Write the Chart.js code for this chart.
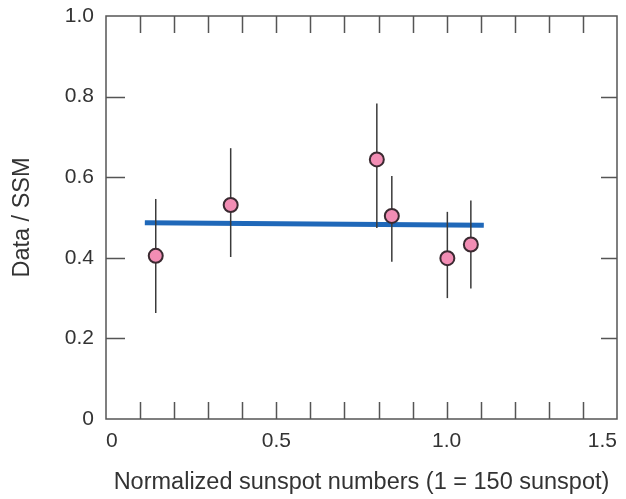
<!DOCTYPE html>
<html>
<head>
<meta charset="utf-8">
<script src="https://cdn.jsdelivr.net/npm/chart.js@4"></script>
<style>
  body { margin: 0; background: #fff; }
  canvas { display: block; }
</style>
</head>
<body>
<canvas id="sunChart" width="626" height="499"></canvas>
<script>
// values
const sunspot = [0.146, 0.366, 0.795, 0.839, 1.002, 1.071];
const ratio   = [0.405, 0.531, 0.644, 0.504, 0.399, 0.433];
const errLow  = [0.263, 0.402, 0.474, 0.390, 0.300, 0.324];
const errHigh = [0.546, 0.672, 0.783, 0.603, 0.514, 0.542];
const fitX = [0.114, 1.109];
const fitY = [0.487, 0.481];
const xTickLabels = ['0', '0.5', '1.0', '1.5'];
const yTickLabels = ['0', '0.2', '0.4', '0.6', '0.8', '1.0'];

const FONT = "'Liberation Sans', Arial, Helvetica, sans-serif";
const INK = '#333333';

// error bars drawn right after the fit line, so markers sit on top
const errorBars = {
  id: 'errorBars',
  afterDatasetDraw(chart, args) {
    if (args.index !== 1) return;
    const { ctx, scales: { x, y } } = chart;
    ctx.save();
    ctx.strokeStyle = '#3a3a3a';
    ctx.lineWidth = 1.5;
    sunspot.forEach((v, i) => {
      const px = x.getPixelForValue(v);
      ctx.beginPath();
      ctx.moveTo(px, y.getPixelForValue(errLow[i]));
      ctx.lineTo(px, y.getPixelForValue(errHigh[i]));
      ctx.stroke();
    });
    ctx.restore();
  }
};

// box frame with inward tick marks on all four sides
const frameTicks = {
  id: 'frameTicks',
  beforeDatasetsDraw(chart) {
    const { ctx, chartArea: a, scales: { x, y } } = chart;
    ctx.save();
    ctx.strokeStyle = '#555555';
    ctx.lineWidth = 1.5;
    ctx.strokeRect(a.left, a.top, a.right - a.left, a.bottom - a.top);
    ctx.beginPath();
    x.ticks.forEach(t => {
      if (t.value <= 0.001 || t.value >= 1.499) return;
      const px = Math.round(x.getPixelForValue(t.value)) + 0.5;
      ctx.moveTo(px, a.bottom); ctx.lineTo(px, a.bottom - 17);
      ctx.moveTo(px, a.top); ctx.lineTo(px, a.top + 17);
    });
    y.ticks.forEach(t => {
      if (t.value <= 0.001 || t.value >= 0.999) return;
      const py = Math.round(y.getPixelForValue(t.value)) + 0.5;
      ctx.moveTo(a.left, py); ctx.lineTo(a.left + 19, py);
      ctx.moveTo(a.right, py); ctx.lineTo(a.right - 16, py);
    });
    ctx.stroke();
    ctx.restore();
  }
};

function nearHalf(v) {
  return Math.abs(v * 2 - Math.round(v * 2)) < 1e-6;
}

new Chart(document.getElementById('sunChart'), {
  type: 'scatter',
  data: {
    datasets: [
      {
        label: 'Data / SSM',
        data: sunspot.map((v, i) => ({ x: v, y: ratio[i] })),
        backgroundColor: '#f28db4',
        borderColor: '#3b2a31',
        borderWidth: 2,
        pointRadius: 7,
        order: 1
      },
      {
        label: 'fit',
        type: 'line',
        data: fitX.map((v, i) => ({ x: v, y: fitY[i] })),
        borderColor: '#1f68b9',
        borderWidth: 5,
        pointRadius: 0,
        fill: false,
        order: 2
      }
    ]
  },
  options: {
    responsive: false,
    animation: false,
    layout: { padding: { left: 0, right: 2, top: 16, bottom: 0 } },
    plugins: {
      legend: { display: false },
      tooltip: { enabled: false }
    },
    scales: {
      x: {
        type: 'linear',
        min: 0,
        max: 1.5,
        grid: { display: false, drawTicks: false },
        border: { display: false },
        afterFit: s => { s.height = 80; s.paddingLeft = 0; s.paddingRight = 0; },
        ticks: {
          stepSize: 0.1,
          autoSkip: false,
          maxRotation: 0,
          align: 'inner',
          padding: 10,
          color: INK,
          font: { family: FONT, size: 21 },
          callback: v => nearHalf(v) ? xTickLabels[Math.round(v * 2)] : ''
        },
        title: {
          display: true,
          text: 'Normalized sunspot numbers (1 = 150 sunspot)',
          color: INK,
          font: { family: FONT, size: 23.5 },
          padding: { top: 0, bottom: 2 }
        }
      },
      y: {
        type: 'linear',
        min: 0,
        max: 1,
        grid: { display: false, drawTicks: false },
        border: { display: false },
        afterFit: s => { s.width = 106; s.paddingTop = 0; s.paddingBottom = 0; },
        ticks: {
          stepSize: 0.2,
          padding: 12,
          color: INK,
          font: { family: FONT, size: 21 },
          callback: v => yTickLabels[Math.round(v * 5)]
        },
        title: {
          display: true,
          text: 'Data / SSM',
          color: INK,
          font: { family: FONT, size: 23.5 },
          padding: { top: 8, bottom: 0 }
        }
      }
    }
  },
  plugins: [frameTicks, errorBars]
});
</script>
</body>
</html>
